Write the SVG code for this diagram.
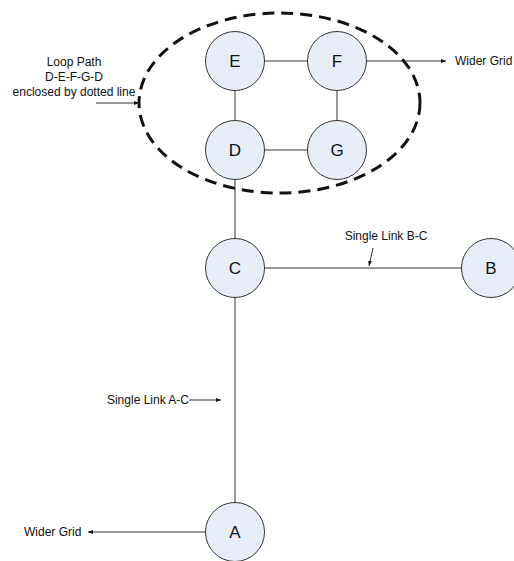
<svg xmlns="http://www.w3.org/2000/svg" width="514" height="561" viewBox="0 0 514 561">
<style>
.node{fill:#E8EEF8;stroke:#333;stroke-width:1}
.lbl{font-family:"Liberation Sans",Arial,sans-serif;font-size:17px;fill:#111;text-anchor:middle}
.note{font-family:"Liberation Sans",Arial,sans-serif;font-size:12px;fill:#111}
.ln{stroke:#333;stroke-width:1;fill:none}
</style>
<defs>
<marker id="ah" viewBox="0 0 10 10" refX="10" refY="5" markerWidth="5" markerHeight="5" orient="auto" markerUnits="userSpaceOnUse">
<path d="M0,1 L10,5 L0,9 Z" fill="#111"/>
</marker>
</defs>
<rect width="514" height="561" fill="#fff"/>
<g id="connectors">
<line class="ln" x1="264" y1="61" x2="308" y2="61"/>
<line class="ln" x1="235" y1="91" x2="235" y2="120"/>
<line class="ln" x1="337" y1="91" x2="337" y2="120"/>
<line class="ln" x1="264" y1="150" x2="308" y2="150"/>
<line class="ln" x1="235" y1="180" x2="235" y2="238"/>
<line class="ln" x1="264" y1="268" x2="462" y2="268"/>
<line class="ln" x1="235" y1="298" x2="235" y2="502"/>
<line class="ln" x1="366" y1="61" x2="446" y2="61" marker-end="url(#ah)"/>
<line class="ln" x1="205" y1="532" x2="88" y2="532" marker-end="url(#ah)"/>
<line class="ln" x1="96" y1="103" x2="139" y2="103" marker-end="url(#ah)"/>
<line class="ln" x1="373" y1="248" x2="369" y2="266" marker-end="url(#ah)"/>
<line class="ln" x1="189" y1="400" x2="221" y2="400" marker-end="url(#ah)"/>
</g>
<ellipse id="loop" cx="279.5" cy="103" rx="140.5" ry="90" fill="none" stroke="#111" stroke-width="3" stroke-dasharray="12 7"/>
<g id="node-E"><circle class="node" cx="235" cy="61" r="29.5"/><text class="lbl" x="235" y="67">E</text></g>
<g id="node-F"><circle class="node" cx="337" cy="61" r="29.5"/><text class="lbl" x="337" y="67">F</text></g>
<g id="node-D"><circle class="node" cx="235" cy="150" r="29.5"/><text class="lbl" x="235" y="156">D</text></g>
<g id="node-G"><circle class="node" cx="337" cy="150" r="29.5"/><text class="lbl" x="337" y="156">G</text></g>
<g id="node-C"><circle class="node" cx="235" cy="268" r="29.5"/><text class="lbl" x="235" y="274">C</text></g>
<g id="node-B"><circle class="node" cx="491" cy="268" r="29.5"/><text class="lbl" x="491" y="274">B</text></g>
<g id="node-A"><circle class="node" cx="235" cy="532" r="29.5"/><text class="lbl" x="235" y="538">A</text></g>
<g id="labels">
<text class="note" x="74" y="66" text-anchor="middle">Loop Path</text>
<text class="note" x="74" y="81" text-anchor="middle">D-E-F-G-D</text>
<text class="note" x="74" y="96" text-anchor="middle">enclosed by dotted line</text>
<text class="note" x="455" y="65">Wider Grid</text>
<text class="note" x="386" y="240" text-anchor="middle">Single Link B-C</text>
<text class="note" x="189" y="404" text-anchor="end">Single Link A-C</text>
<text class="note" x="24" y="536">Wider Grid</text>
</g>
</svg>
